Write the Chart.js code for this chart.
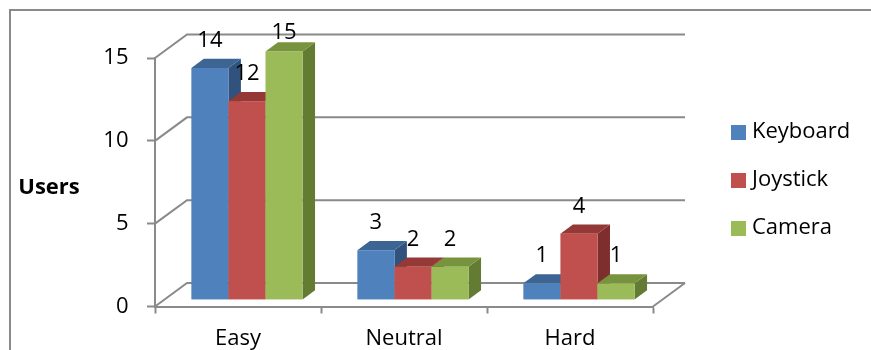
<!DOCTYPE html>
<html>
<head>
<meta charset="utf-8">
<script src="https://cdn.jsdelivr.net/npm/chart.js@4/dist/chart.umd.min.js"></script>
<style>
  html, body { margin: 0; padding: 0; background: #fff; }
  #wrap { width: 871px; height: 350px; overflow: hidden; }
</style>
</head>
<body>
<div id="wrap"><canvas id="c" width="871" height="350"></canvas></div>
<script>
// ---- data ----
const categories = ['Easy', 'Neutral', 'Hard'];
const seriesNames = ['Keyboard', 'Joystick', 'Camera'];
const keyboardUsers = [14, 3, 1];
const joystickUsers = [12, 2, 4];
const cameraUsers = [15, 2, 1];
const yTickValues = [0, 5, 10, 15];
const yAxisTitle = 'Users';

// ---- styling ----
const FONT = '"Open Sans"';
const FONT_SIZE = 22;
const GRID = '#8a8a8a';
const faces = [
  { front: '#4F81BD', top: '#3C6594', side: '#30527C' },
  { front: '#C0504D', top: '#943936', side: '#7E2F2D' },
  { front: '#9BBB59', top: '#77933D', side: '#637B33' }
];
const DEPTH = { x: 32, y: -23.5 };   // floor depth vector (front edge -> back wall)
const BAR_FRONT = 0.28;              // bar front plane, fraction of floor depth
const BAR_DEPTH = 0.39;              // bar thickness, fraction of floor depth

const threeD = {
  id: 'threeD',
  beforeDraw(chart) {
    const ctx = chart.ctx;
    ctx.save();
    ctx.strokeStyle = GRID;
    ctx.lineWidth = 2;
    ctx.beginPath();
    ctx.moveTo(10, chart.height + 5);
    ctx.lineTo(10, 10);
    ctx.lineTo(chart.width + 5, 10);
    ctx.stroke();
    ctx.restore();
  },
  beforeDatasetsDraw(chart) {
    const { ctx, chartArea: a, scales } = chart;
    const y = scales.y;
    const y0 = y.getPixelForValue(0);
    ctx.save();
    // side wall diagonals + back wall gridlines
    ctx.strokeStyle = GRID;
    ctx.lineWidth = 2;
    yTickValues.forEach(v => {
      const py = y.getPixelForValue(v);
      ctx.beginPath();
      ctx.moveTo(a.left, py);
      ctx.lineTo(a.left + DEPTH.x, py + DEPTH.y);
      ctx.lineTo(a.right + DEPTH.x, py + DEPTH.y);
      ctx.stroke();
    });
    // floor right edge
    ctx.beginPath();
    ctx.moveTo(a.right, y0);
    ctx.lineTo(a.right + DEPTH.x, y0 + DEPTH.y);
    ctx.stroke();

    // bars as boxes: side, top, then front face
    const ox = BAR_FRONT * DEPTH.x, oy = BAR_FRONT * DEPTH.y;
    const dx = BAR_DEPTH * DEPTH.x, dy = BAR_DEPTH * DEPTH.y;
    const metas = chart.data.datasets.map((d, i) => chart.getDatasetMeta(i));
    categories.forEach((c, ci) => {
      metas.forEach((m, di) => {
        const el = m.data[ci];
        const L = el.x - el.width / 2 + ox, R = el.x + el.width / 2 + ox;
        const T = el.y + oy, B = el.base + oy;
        const f = faces[di];
        ctx.fillStyle = f.side;
        ctx.beginPath();
        ctx.moveTo(R, T); ctx.lineTo(R + dx, T + dy); ctx.lineTo(R + dx, B + dy); ctx.lineTo(R, B);
        ctx.closePath(); ctx.fill();
        ctx.fillStyle = f.top;
        ctx.beginPath();
        ctx.moveTo(L, T); ctx.lineTo(R, T); ctx.lineTo(R + dx, T + dy); ctx.lineTo(L + dx, T + dy);
        ctx.closePath(); ctx.fill();
        ctx.fillStyle = f.front;
        ctx.fillRect(L, T, R - L, B - T);
      });
    });
    ctx.restore();
    return false;
  },
  afterDraw(chart) {
    const { ctx, scales } = chart;
    const y = scales.y;
    const ox = BAR_FRONT * DEPTH.x, oy = BAR_FRONT * DEPTH.y;
    const dy = BAR_DEPTH * DEPTH.y;
    const wallTop = y.getPixelForValue(yTickValues[yTickValues.length - 1]) + DEPTH.y;
    ctx.save();
    // value labels above each box
    ctx.fillStyle = '#000';
    ctx.font = FONT_SIZE + 'px ' + FONT;
    ctx.textAlign = 'center';
    ctx.textBaseline = 'middle';
    chart.data.datasets.forEach((ds, di) => {
      const m = chart.getDatasetMeta(di);
      ds.data.forEach((v, ci) => {
        const el = m.data[ci];
        const ly = Math.max(el.y + oy + dy - 18, wallTop - 2);
        ctx.fillText(String(v), el.x + ox, ly);
      });
    });
    // axis title
    ctx.font = 'bold ' + FONT_SIZE + 'px ' + FONT;
    ctx.fillText(yAxisTitle, 49, 187.5);
    // legend
    ctx.font = FONT_SIZE + 'px ' + FONT;
    ctx.textAlign = 'left';
    seriesNames.forEach((name, i) => {
      const cy = 132.5 + i * 48;
      ctx.fillStyle = faces[i].front;
      ctx.fillRect(731, cy - 7.5, 15, 15);
      ctx.fillStyle = '#000';
      ctx.fillText(name, 752, cy - 1);
    });
    ctx.restore();
  }
};

const seriesValues = [keyboardUsers, joystickUsers, cameraUsers];

new Chart(document.getElementById('c'), {
  type: 'bar',
  data: {
    labels: categories,
    datasets: seriesNames.map((name, i) => ({
      label: name,
      data: seriesValues[i],
      backgroundColor: faces[i].front,
      categoryPercentage: 0.67,
      barPercentage: 1.0
    }))
  },
  options: {
    responsive: false,
    animation: false,
    devicePixelRatio: 1,
    layout: { padding: { left: 10, top: 58, right: 218, bottom: 0 } },
    plugins: { legend: { display: false }, tooltip: { enabled: false } },
    scales: {
      x: {
        grid: { display: true, drawOnChartArea: false, offset: true, tickLength: 7, tickColor: GRID, tickWidth: 2 },
        border: { display: true, color: GRID, width: 2 },
        ticks: { color: '#000', font: { family: FONT, size: FONT_SIZE }, padding: 12 },
        afterFit(scale) { scale.height = 43.5; }
      },
      y: {
        min: 0, max: 15,
        grid: { display: true, drawOnChartArea: false, tickLength: 8, tickColor: GRID, tickWidth: 2 },
        border: { display: true, color: GRID, width: 2 },
        ticks: { stepSize: 5, color: '#000', font: { family: FONT, size: FONT_SIZE }, padding: 18.5 },
        afterFit(scale) { scale.width = 145; }
      }
    }
  },
  plugins: [threeD]
});
</script>
</body>
</html>
